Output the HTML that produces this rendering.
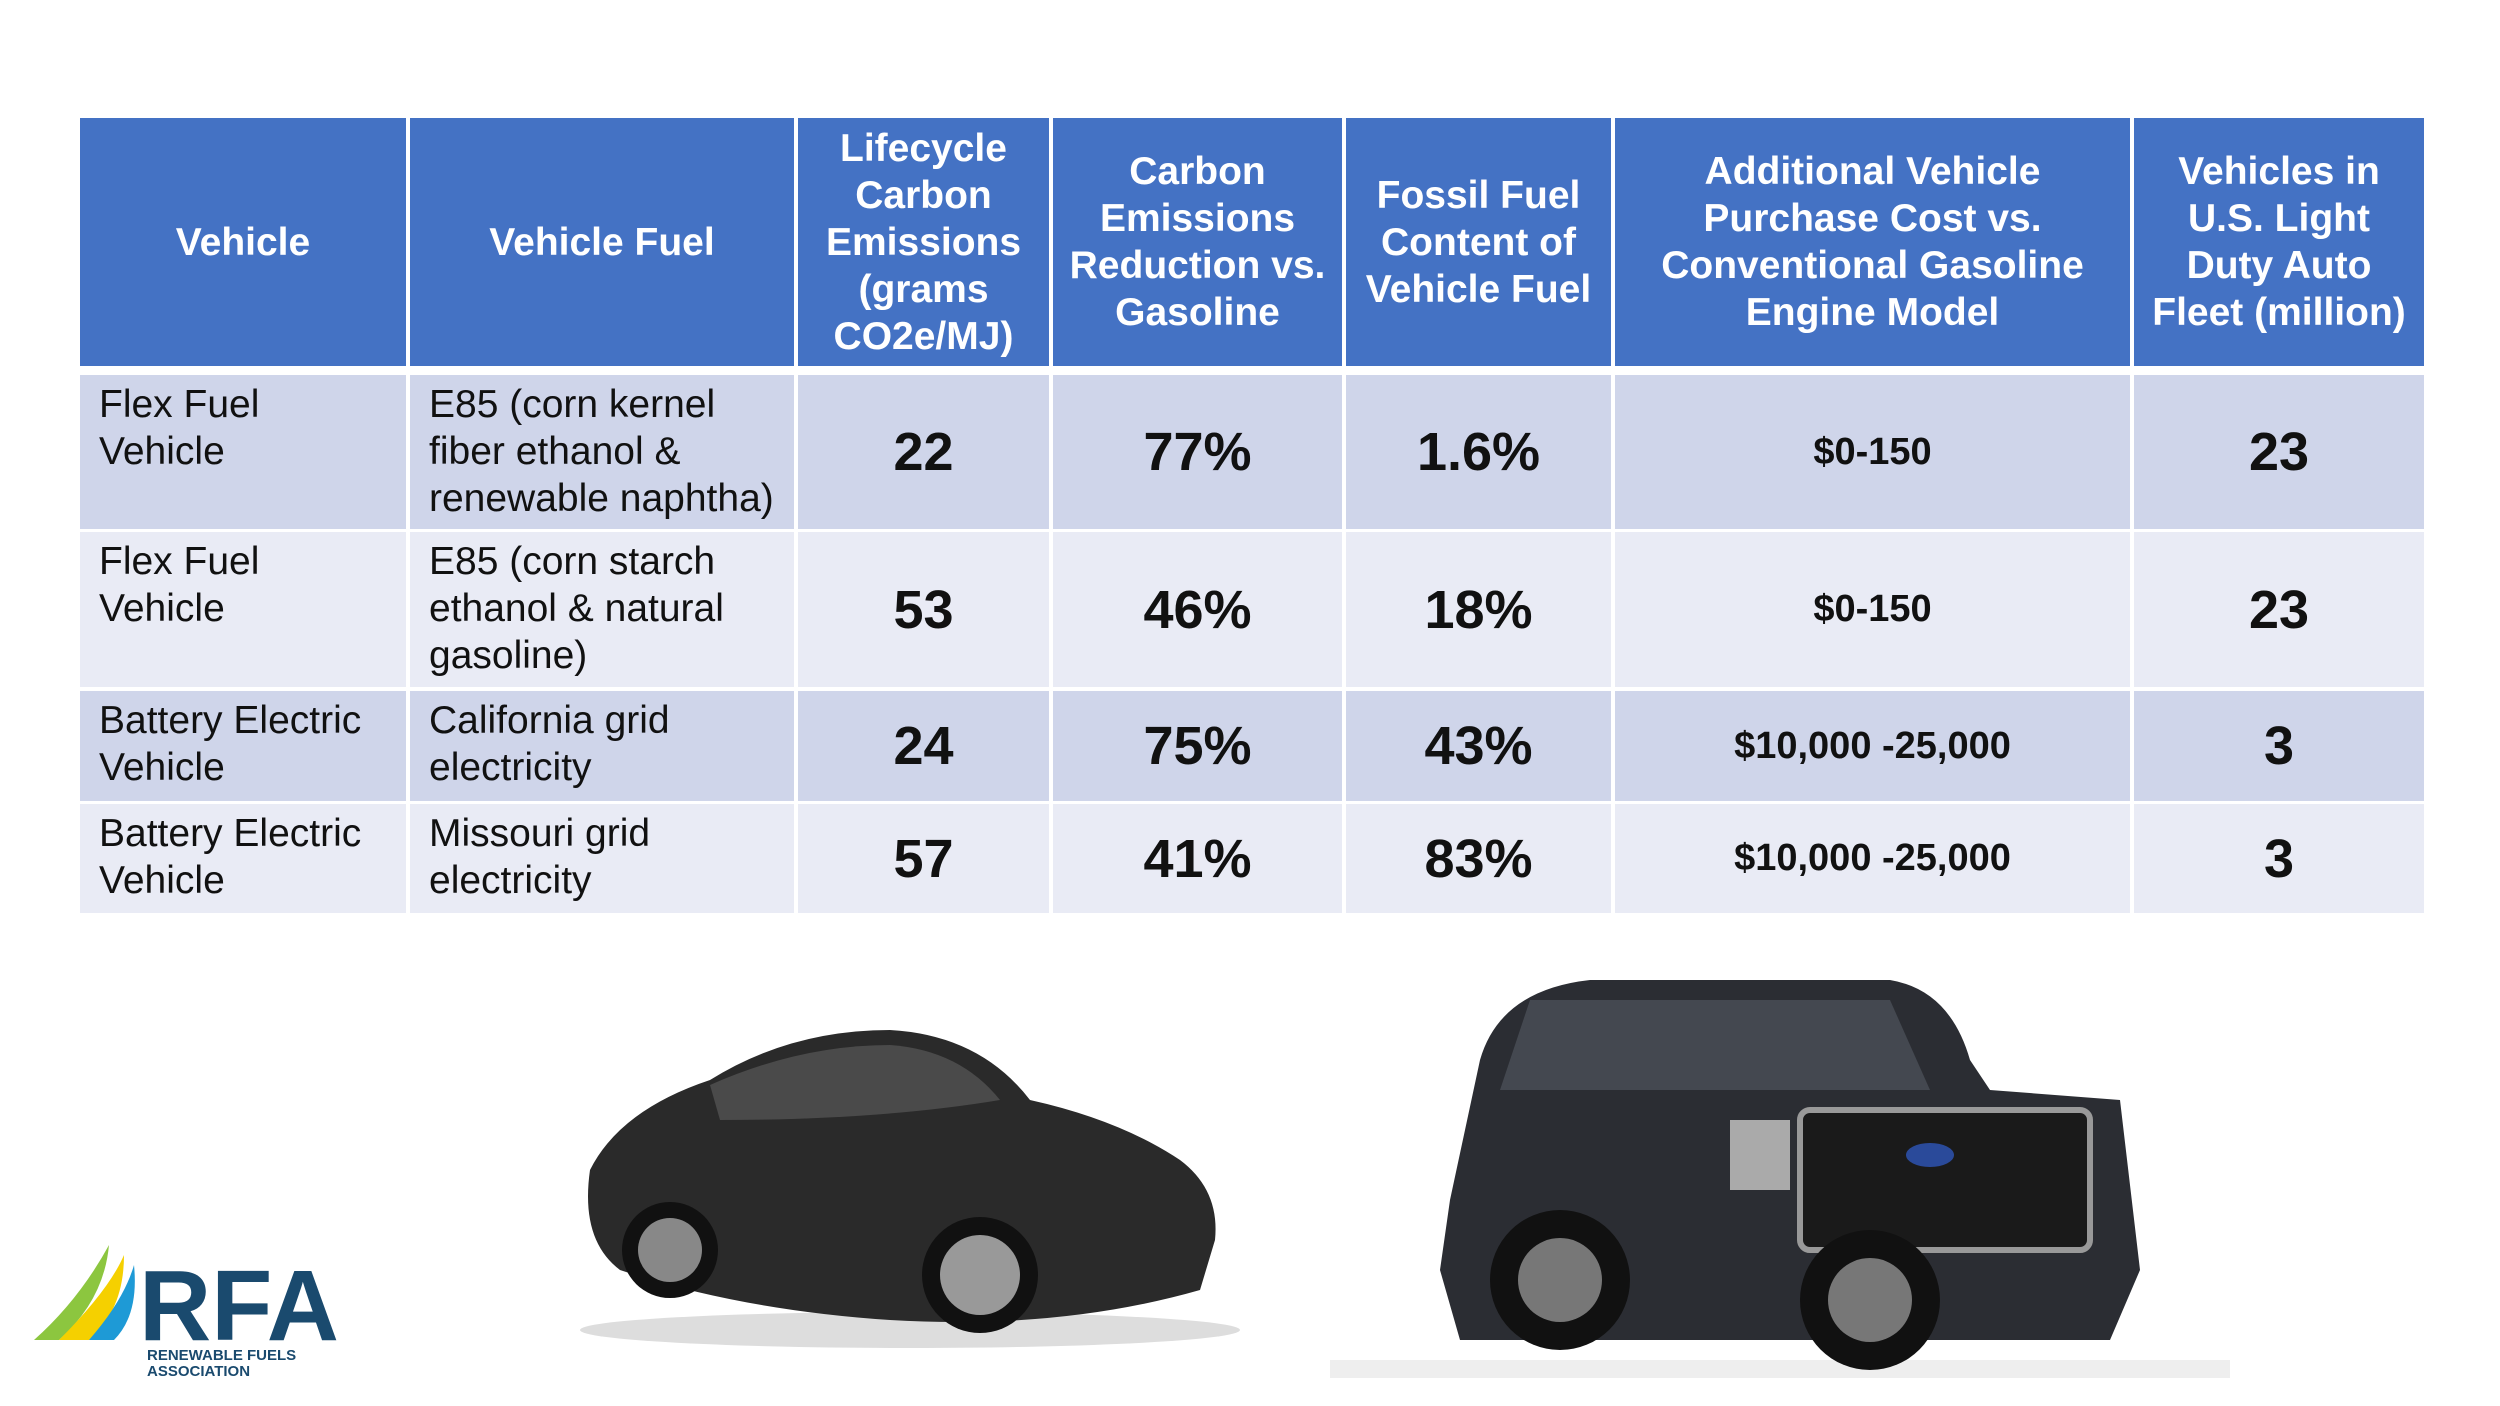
<!DOCTYPE html>
<html><head><style>
body{margin:0;width:2500px;height:1406px;background:#fff;position:relative;overflow:hidden;font-family:"Liberation Sans",Arial,sans-serif}
.c{position:absolute;box-sizing:border-box;display:flex;align-items:center;justify-content:center;text-align:center}
.h{background:#4472C4;color:#fff;font-weight:bold;font-size:39px;line-height:47px}
.t{position:absolute;box-sizing:border-box;font-size:39px;line-height:47px;color:#111;padding:6px 0 0 19px}
.n{font-weight:bold;font-size:54px;color:#111}
.m{font-weight:bold;font-size:38px;color:#111}
.o{background:#CFD5EA}.e{background:#E9EBF5}
</style></head><body>
<!-- header -->
<div class="c h" style="left:80px;top:118px;width:326px;height:248px">Vehicle</div>
<div class="c h" style="left:410px;top:118px;width:384px;height:248px">Vehicle Fuel</div>
<div class="c h" style="left:798px;top:118px;width:251px;height:248px">Lifecycle<br>Carbon<br>Emissions<br>(grams<br>CO2e/MJ)</div>
<div class="c h" style="left:1053px;top:118px;width:289px;height:248px">Carbon<br>Emissions<br>Reduction vs.<br>Gasoline</div>
<div class="c h" style="left:1346px;top:118px;width:265px;height:248px">Fossil Fuel<br>Content of<br>Vehicle Fuel</div>
<div class="c h" style="left:1615px;top:118px;width:515px;height:248px">Additional Vehicle<br>Purchase Cost vs.<br>Conventional Gasoline<br>Engine Model</div>
<div class="c h" style="left:2134px;top:118px;width:290px;height:248px;white-space:nowrap">Vehicles in<br>U.S. Light<br>Duty Auto<br>Fleet (million)</div>

<!-- rows -->
<div id="rows"></div>
<script>
const rows=[
 [375,154,'o','Flex Fuel<br>Vehicle','E85 (corn kernel<br>fiber ethanol &amp;<br>renewable naphtha)','22','77%','1.6%','$0-150','23'],
 [532,155,'e','Flex Fuel<br>Vehicle','E85 (corn starch<br>ethanol &amp; natural<br>gasoline)','53','46%','18%','$0-150','23'],
 [691,110,'o','Battery Electric<br>Vehicle','California grid<br>electricity','24','75%','43%','$10,000 -25,000','3'],
 [804,109,'e','Battery Electric<br>Vehicle','Missouri grid<br>electricity','57','41%','83%','$10,000 -25,000','3']];
const cols=[[80,326],[410,384],[798,251],[1053,289],[1346,265],[1615,515],[2134,290]];
let h='';
for(const r of rows){
 const [y,ht,cl]=r;
 for(let i=0;i<7;i++){
  const [x,w]=cols[i];const v=r[3+i];
  if(i<2) h+=`<div class="t ${cl}" style="left:${x}px;top:${y}px;width:${w}px;height:${ht}px">${v}</div>`;
  else h+=`<div class="c ${cl} ${i==5?'m':'n'}" style="left:${x}px;top:${y}px;width:${w}px;height:${ht}px">${v}</div>`;
 }
}
document.getElementById('rows').innerHTML=h;
</script>

<!-- car -->
<svg style="position:absolute;left:560px;top:1010px" width="700" height="340" viewBox="0 0 700 340">
<ellipse cx="350" cy="320" rx="330" ry="18" fill="#ddd"/>
<path d="M30 160 Q60 100 150 70 Q230 20 330 20 Q420 25 470 90 Q560 110 620 150 Q660 180 655 230 L640 280 Q500 320 330 310 Q180 300 60 260 Q20 230 30 160Z" fill="#2a2a2a"/>
<path d="M150 75 Q240 35 330 35 Q400 40 440 90 Q320 110 160 110Z" fill="#4a4a4a"/>
<circle cx="110" cy="240" r="48" fill="#111"/><circle cx="110" cy="240" r="32" fill="#888"/>
<circle cx="420" cy="265" r="58" fill="#111"/><circle cx="420" cy="265" r="40" fill="#999"/>
</svg>

<!-- truck -->
<svg style="position:absolute;left:1330px;top:940px" width="900" height="440" viewBox="0 0 900 440">
<rect x="0" y="420" width="900" height="18" fill="#eee"/>
<path d="M120 260 L150 120 Q170 50 260 40 L560 40 Q620 50 640 120 L660 150 L790 160 L810 330 L780 400 L130 400 L110 330Z" fill="#2b2d33"/>
<path d="M200 60 L560 60 L600 150 L170 150Z" fill="#444850"/>
<rect x="470" y="170" width="290" height="140" rx="10" fill="#1a1a1a" stroke="#999" stroke-width="6"/>
<ellipse cx="600" cy="215" rx="24" ry="12" fill="#2a4a9a"/>
<rect x="400" y="180" width="60" height="70" fill="#aaa"/>
<circle cx="230" cy="340" r="70" fill="#111"/><circle cx="230" cy="340" r="42" fill="#777"/>
<circle cx="540" cy="360" r="70" fill="#111"/><circle cx="540" cy="360" r="42" fill="#777"/>
</svg>

<!-- RFA logo -->
<svg style="position:absolute;left:29px;top:1240px" width="340" height="140" viewBox="0 0 340 140">
<path d="M5 100 Q50 60 80 5 Q75 60 30 100Z" fill="#8cc63f"/>
<path d="M30 100 Q80 50 95 15 Q95 70 60 100Z" fill="#f5d000"/>
<path d="M60 100 Q95 60 105 25 Q110 75 85 100Z" fill="#1e9ad6"/>
<text x="110" y="100" font-family="Liberation Sans,sans-serif" font-weight="bold" font-size="100" fill="#1a4a6e">RFA</text>
<text x="118" y="120" font-family="Liberation Sans,sans-serif" font-weight="bold" font-size="15" fill="#1a4a6e">RENEWABLE FUELS</text>
<text x="118" y="136" font-family="Liberation Sans,sans-serif" font-weight="bold" font-size="15" fill="#1a4a6e">ASSOCIATION</text>
</svg>
</body></html>
